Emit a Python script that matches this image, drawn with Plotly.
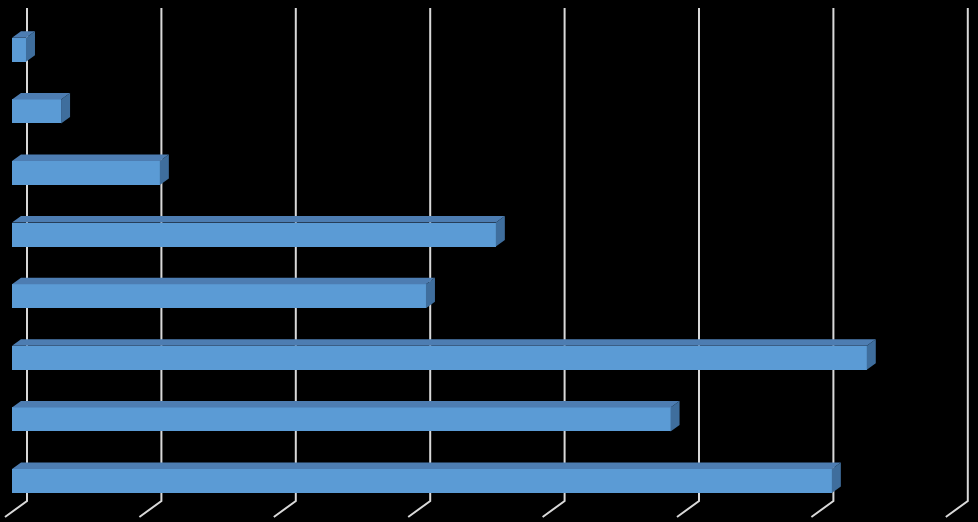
import plotly.graph_objects as go

# Data (bottom to top)
categories = ["1", "2", "3", "4", "5", "6", "7", "8"]
values = [61.0, 49.0, 63.6, 30.8, 36.0, 11.0, 3.65, 1.04]
grid_ticks = [0, 10, 20, 30, 40, 50, 60, 70]

W, H = 978, 522
PX_X = 13.44          # pixels per value unit
PX_Y = 61.6           # pixels per category step
X0 = -12 / PX_X
Y_BOT = (481 - 522) / PX_Y
Y_TOP = 481 / PX_Y

bar_w = 24 / PX_Y
dx, dy = 9 / PX_X, 6.5 / PX_Y                 # bar depth offset
wall_dx, wall_dy = 15 / PX_X, 10 / PX_Y       # back wall offset
grid_top = (481 - 8) / PX_Y
wall_bot = (481 - 501) / PX_Y
floor_y = (481 - 517) / PX_Y
floor_dx = -22 / PX_X

ypos = list(range(len(categories)))

fig = go.Figure()

# Front faces
fig.add_trace(go.Bar(
    x=values, y=ypos, orientation="h", width=bar_w,
    marker=dict(color="#5b9bd5", line=dict(width=0)),
    hoverinfo="skip", showlegend=False,
))

# Top faces
tx, ty = [], []
for v, y in zip(values, ypos):
    yt = y + bar_w / 2
    tx += [0, v, v + dx, dx, 0, None]
    ty += [yt, yt, yt + dy, yt + dy, yt, None]
fig.add_trace(go.Scatter(x=tx, y=ty, fill="toself", mode="lines",
                         line=dict(width=0, color="#4d7db2"),
                         fillcolor="#4d7db2", hoverinfo="skip", showlegend=False))

# Side faces
sx, sy = [], []
for v, y in zip(values, ypos):
    yb, yt = y - bar_w / 2, y + bar_w / 2
    sx += [v, v, v + dx, v + dx, v, None]
    sy += [yb, yt, yt + dy, yb + dy, yb, None]
fig.add_trace(go.Scatter(x=sx, y=sy, fill="toself", mode="lines",
                         line=dict(width=0, color="#3f6e9d"),
                         fillcolor="#3f6e9d", hoverinfo="skip", showlegend=False))

# Gridlines on back wall + floor slant
shapes = []
for t in grid_ticks:
    gx = t + wall_dx
    shapes.append(dict(type="path", xref="x", yref="y", layer="below",
                       path=f"M {gx},{grid_top} L {gx},{wall_bot} L {gx + floor_dx},{floor_y}",
                       line=dict(color="#d9d9d9", width=2)))

fig.update_layout(
    width=W, height=H,
    margin=dict(l=0, r=0, t=0, b=0),
    paper_bgcolor="black", plot_bgcolor="black",
    shapes=shapes,
    bargap=0,
    xaxis=dict(range=[X0, X0 + W / PX_X], visible=False, fixedrange=True),
    yaxis=dict(range=[Y_BOT, Y_TOP], visible=False, fixedrange=True),
)

fig.write_html("out.html", config={"displayModeBar": False},
               post_script="document.body.style.margin='0';document.body.style.background='black';")
